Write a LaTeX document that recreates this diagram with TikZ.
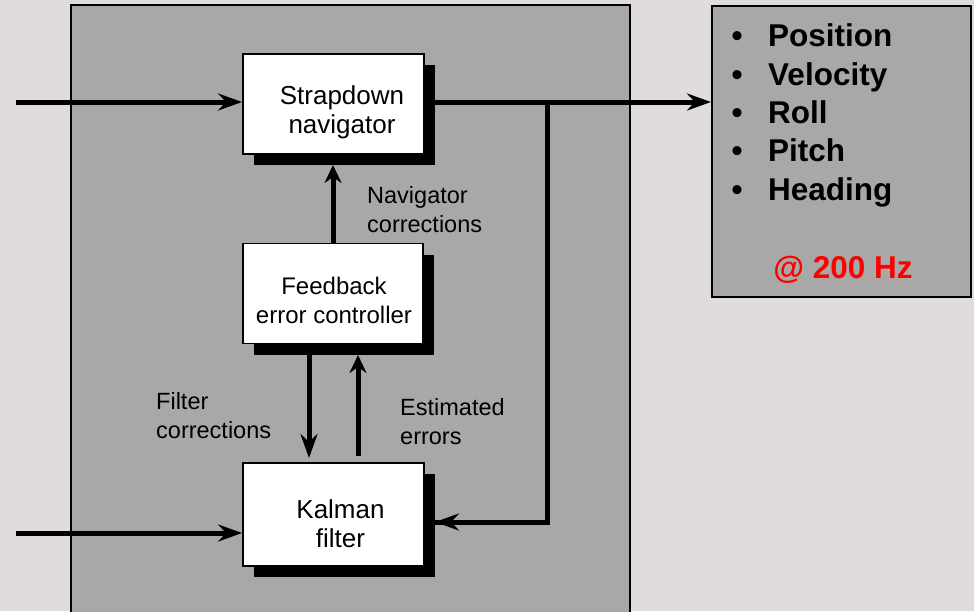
\documentclass[tikz,border=0pt]{standalone}
\usepackage{fontspec}
\setmainfont{Liberation Sans}
\usetikzlibrary{arrows.meta,shadows}
\definecolor{bgc}{RGB}{224,220,221}
\definecolor{panel}{RGB}{168,168,168}
\definecolor{hzred}{RGB}{255,0,0}
\begin{document}
\begin{tikzpicture}[x=1pt,y=-1pt,
  blk/.style={draw=black, line width=1.8pt, fill=white, inner sep=0pt,
     general shadow={fill=black, shadow xshift=11pt, shadow yshift=-11pt}},
  boxtxt/.style={font=\fontsize{26}{29}\selectfont, align=center, anchor=base, inner sep=0pt},
  lbl/.style={font=\fontsize{23.5}{29}\selectfont, align=left, anchor=base west, inner sep=0pt},
  flow/.style={line width=5pt, -{Stealth[length=24pt,width=17pt,inset=8pt]}},
  upflow/.style={line width=5pt, -{Stealth[length=18pt,width=17pt,inset=6pt]}},
  plainline/.style={line width=5pt}
]
\useasboundingbox (0,0) rectangle (974,611);
\fill[bgc] (0,0) rectangle (974,611);
\clip (0,0) rectangle (974,611);
% main panel
\draw[fill=panel, line width=1.5pt] (71,5) rectangle (630,660);
% output panel
\node[draw=black, line width=2pt, fill=panel, minimum width=259pt, minimum height=291pt, inner sep=0pt] (out) at (841.5,151.5) {};
% blocks
\node[blk, minimum width=181pt, minimum height=100pt] (sd) at (333.5,104) {};
\node[blk, minimum width=180pt, minimum height=100pt] (fb) at (333,293.5) {};
\node[blk, minimum width=181pt, minimum height=103pt] (kf) at (333.5,514.5) {};
% block texts
\node[boxtxt] (sdt) at (342,133) {Strapdown\\navigator};
\node[boxtxt, font=\fontsize{24}{29}\selectfont] (fbt) at (334,323) {Feedback\\error controller};
\node[boxtxt] (kft) at (340.5,547) {Kalman\\filter};
% labels
\node[lbl] (navl) at (367,232) {Navigator\\corrections};
\node[lbl] (fill) at (156,438) {Filter\\corrections};
\node[lbl] (estl) at (400,444) {Estimated\\errors};
% output list
\node[font=\fontsize{31.5}{38.3}\selectfont\bfseries, align=left, anchor=base west, inner sep=0pt] (list) at (731.5,200)
  {\makebox[36.5pt][l]{\textbullet}Position\\
   \makebox[36.5pt][l]{\textbullet}Velocity\\
   \makebox[36.5pt][l]{\textbullet}Roll\\
   \makebox[36.5pt][l]{\textbullet}Pitch\\
   \makebox[36.5pt][l]{\textbullet}Heading};
\node[font=\fontsize{31.5}{38}\selectfont\bfseries, text=hzred, anchor=base, inner sep=0pt] (hz) at (843,278) {@ 200 Hz};
% coordinates
\coordinate (in1) at (16,102);
\coordinate (in2) at (16,533);
\coordinate (j) at (547,102);
\coordinate (jb) at (547,522);
\coordinate (kfin) at (435,522);
% connectors
\draw[flow] (in1) -- (sd.west |- in1);
\draw[flow] (sd.east |- in1) -- (out.west |- in1);
\draw[plainline] (j) -- (jb) -- (jb -| kfin);
\draw[flow] (jb) -- (kfin);
\draw[flow] (in2) -- (kf.west |- in2);
\draw[upflow] (fb.north -| 333,0) -- (333,165);
\draw[flow] (309,343) -- (309,458);
\draw[upflow] (358,456) -- (358,355);
\end{tikzpicture}
\end{document}
